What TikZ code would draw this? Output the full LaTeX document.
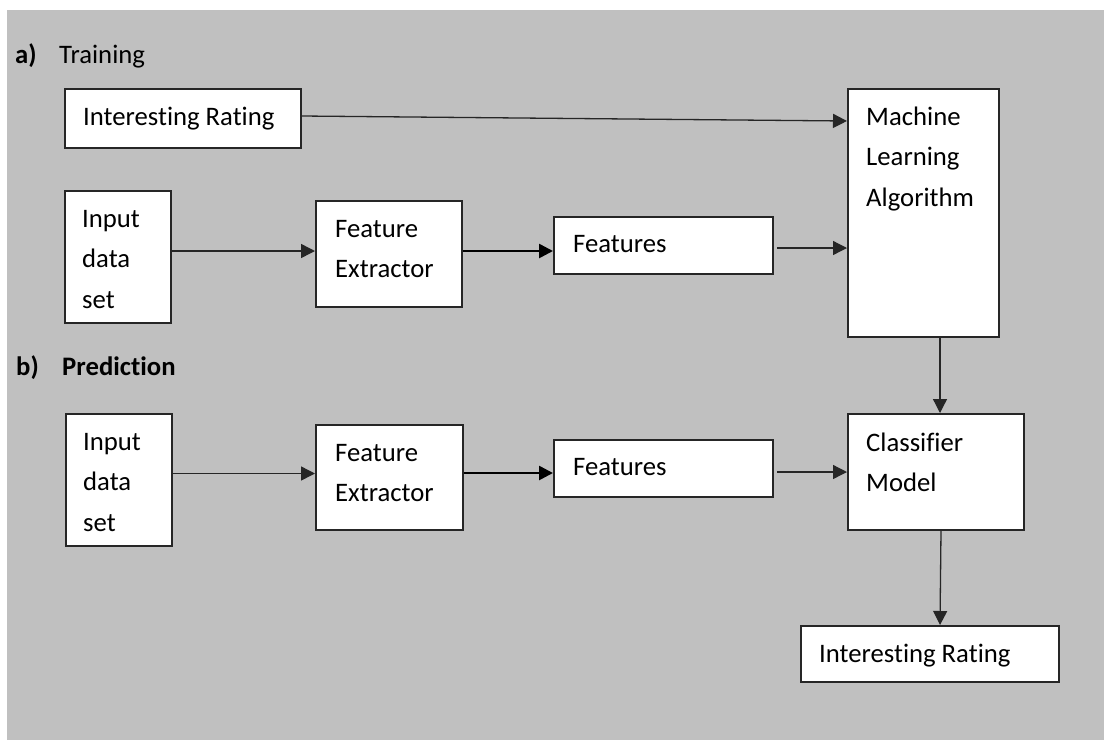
\documentclass[tikz,border=0pt]{standalone}
\usepackage{fontspec}
\setmainfont{Carlito}[Ligatures=NoCommon]
\usetikzlibrary{arrows.meta}
\definecolor{bggray}{RGB}{192,192,192}
\begin{document}
\begin{tikzpicture}[x=1pt,y=-1pt,
  box/.style={draw=black!85, line width=2pt, fill=white, rectangle, inner sep=0pt, anchor=north west},
  txt/.style={anchor=north west, inner sep=0pt, align=left, text=black,
    font=\fontsize{26.7}{40.7}\selectfont},
  head/.style={anchor=base west, inner sep=0pt, text=black, font=\fontsize{26.7}{32}\selectfont},
  arr/.style={line width=1.3pt, draw=black!85, -{Triangle[length=14pt,width=14pt]}},
  arrthick/.style={arr, line width=2.6pt, draw=black}
]
\useasboundingbox (0,0) rectangle (1104,740);
\fill[white] (0,0) rectangle (1104,740);
\fill[bggray] (7,10) rectangle (1104,740);

% headings
\node[head] (ha) at (15,63) {\bfseries a)};
\node[head] (hat) at (59,63) {Training};
\node[head] (hb) at (16,375) {\bfseries b)};
\node[head] (hbt) at (62,375) {\bfseries Prediction};

% training boxes
\node[box, minimum width=236, minimum height=59] (ir1) at (64,88) {};
\node[box, minimum width=106, minimum height=132] (in1) at (64,190) {};
\node[box, minimum width=146, minimum height=106] (fe1) at (315,200) {};
\node[box, minimum width=219, minimum height=57] (ft1) at (553,216) {};
\node[box, minimum width=151, minimum height=248] (ml) at (847,88) {};

% prediction boxes
\node[box, minimum width=106, minimum height=132] (in2) at (65,413) {};
\node[box, minimum width=147, minimum height=105] (fe2) at (315,424) {};
\node[box, minimum width=219, minimum height=57] (ft2) at (553,439) {};
\node[box, minimum width=176, minimum height=116] (cl) at (847,413) {};
\node[box, minimum width=258, minimum height=56] (ir2) at (800,625) {};

% texts
\node[txt] (ir1t) at ([shift={(19,10)}]ir1.north west) {\rule{0pt}{27pt}Interesting Rating};
\node[txt] (in1t) at ([shift={(18,10)}]in1.north west) {\rule{0pt}{27pt}Input\\data\\set};
\node[txt] (fe1t) at ([shift={(20,10)}]fe1.north west) {\rule{0pt}{27pt}Feature\\Extractor};
\node[txt] (ft1t) at ([shift={(20,9)}]ft1.north west) {\rule{0pt}{27pt}Features};
\node[txt] (mlt) at ([shift={(19,10)}]ml.north west) {\rule{0pt}{27pt}Machine\\Learning\\Algorithm};
\node[txt] (in2t) at ([shift={(18,10)}]in2.north west) {\rule{0pt}{27pt}Input\\data\\set};
\node[txt] (fe2t) at ([shift={(20,10)}]fe2.north west) {\rule{0pt}{27pt}Feature\\Extractor};
\node[txt] (ft2t) at ([shift={(20,9)}]ft2.north west) {\rule{0pt}{27pt}Features};
\node[txt] (clt) at ([shift={(19,11)}]cl.north west) {\rule{0pt}{27pt}Classifier\\Model};
\node[txt] (ir2t) at ([shift={(19,10)}]ir2.north west) {\rule{0pt}{27pt}Interesting Rating};

% training connectors
\draw[arr] ([yshift=2.5pt]ir1.east) -- ([yshift=-33pt]ml.north west);
\draw[arr, line width=1.5pt] ([yshift=6pt]in1.east) -- ([yshift=3pt]fe1.west);
\draw[arrthick] ([yshift=3pt]fe1.east) -- ([yshift=-5.5pt]ft1.west);
\draw[arr] ([xshift=3pt,yshift=-2.5pt]ft1.east) -- ([yshift=-160pt]ml.north west);
\draw[arr] ([xshift=93pt]ml.south west) -- ([xshift=93pt]cl.north west);

% prediction connectors
\draw[arr, line width=1.5pt] ([yshift=6.5pt]in2.east) -- ([yshift=4pt]fe2.west);
\draw[arrthick] ([yshift=4.5pt]fe2.east) -- ([yshift=-4.5pt]ft2.west);
\draw[arr] ([xshift=3pt,yshift=-3.5pt]ft2.east) -- (cl.west);
\draw[arr] ([xshift=94pt]cl.south west) -- ([xshift=140pt]ir2.north west);
\end{tikzpicture}
\end{document}
